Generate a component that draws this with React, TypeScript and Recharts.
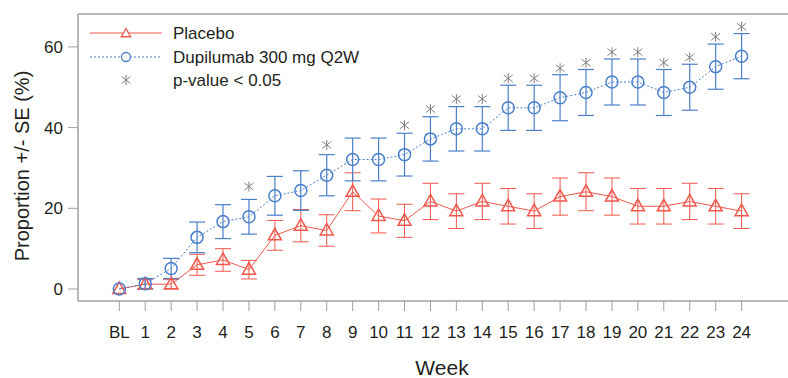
import React from 'react';
import { ComposedChart, Line, XAxis, YAxis, ErrorBar, ReferenceLine } from 'recharts';

const weeks = [0, 1, 2, 3, 4, 5, 6, 7, 8, 9, 10, 11, 12, 13, 14, 15, 16, 17, 18, 19, 20, 21, 22, 23, 24];
const weekLabels = ['BL', '1', '2', '3', '4', '5', '6', '7', '8', '9', '10', '11', '12', '13', '14', '15', '16', '17', '18', '19', '20', '21', '22', '23', '24'];

const placebo = [0, 1.2, 1.2, 6.0, 7.2, 4.8, 13.3, 15.7, 14.5, 24.1, 18.1, 16.9, 21.7, 19.3, 21.7, 20.5, 19.3, 22.9, 24.1, 22.9, 20.5, 20.5, 21.7, 20.5, 19.3];
const placeboSe = [0, 1.2, 1.2, 2.6, 2.8, 2.3, 3.7, 4.0, 3.9, 4.7, 4.2, 4.1, 4.5, 4.3, 4.5, 4.4, 4.3, 4.6, 4.7, 4.6, 4.4, 4.4, 4.5, 4.4, 4.3];

const dupilumab = [0, 1.3, 5.1, 12.8, 16.7, 17.9, 23.1, 24.4, 28.2, 32.1, 32.1, 33.3, 37.2, 39.7, 39.7, 44.9, 44.9, 47.4, 48.7, 51.3, 51.3, 48.7, 50.0, 55.1, 57.7];
const dupilumabSe = [0, 1.3, 2.5, 3.8, 4.2, 4.3, 4.8, 4.9, 5.1, 5.3, 5.3, 5.3, 5.5, 5.5, 5.5, 5.6, 5.6, 5.7, 5.7, 5.7, 5.7, 5.7, 5.7, 5.6, 5.6];

// asterisk marks for p < 0.05, placed above the upper error bar
const pStar = [null, null, null, null, null, 25.4, null, null, 35.7, null, null, 40.6, 44.6, 47.1, 47.1, 52.2, 52.2, 54.7, 56.1, 58.7, 58.7, 56.1, 57.4, 62.5, 65.0];

const yTicks = [0, 20, 40, 60];

const data = weeks.map((w, i) => ({
  week: w,
  placebo: placebo[i],
  placeboSe: placeboSe[i],
  dupi: dupilumab[i],
  dupiSe: dupilumabSe[i],
  star: pStar[i],
}));

const RED = '#F0584E';
const BLUE = '#4A7FCB';
const GREY = '#808080';
const AXIS = '#A0A0A0';
const TEXT = '#231F20';
const FONT = '"Liberation Sans", Arial, sans-serif';

const X_DOMAIN: [number, number] = [-1.593, 25.79];
const Y_DOMAIN: [number, number] = [-2.97, 68.15];

function triPath(cx: number, cy: number, s = 1) {
  return `M${cx},${cy - 7 * s} L${cx + 6.5 * s},${cy + 4.5 * s} L${cx - 6.5 * s},${cy + 4.5 * s} Z`;
}

const TriangleDot = (props: any) => {
  const { cx, cy, index } = props;
  if (cx == null || cy == null) return <g key={index} />;
  return <path key={index} d={triPath(cx, cy)} fill="none" stroke={RED} strokeWidth={1.5} />;
};

const CircleDot = (props: any) => {
  const { cx, cy, index } = props;
  if (cx == null || cy == null) return <g key={index} />;
  return <circle key={index} cx={cx} cy={cy} r={6} fill="none" stroke={BLUE} strokeWidth={1.5} />;
};

function starPath(cx: number, cy: number) {
  return `M${cx},${cy - 5} L${cx},${cy + 5} M${cx - 4.5},${cy - 3.5} L${cx + 4.5},${cy + 3.5} M${cx - 4.5},${cy + 3.5} L${cx + 4.5},${cy - 3.5}`;
}

const StarDot = (props: any) => {
  const { cx, cy, index, value } = props;
  if (value == null || cx == null || cy == null) return <g key={index} />;
  return <path key={index} d={starPath(cx, cy)} fill="none" stroke={GREY} strokeWidth={1} />;
};

export default function App() {
  return (
    <div
      style={{
        position: 'fixed',
        left: 0,
        top: 0,
        width: 788,
        height: 378,
        fontFamily: FONT,
        background: '#fff',
        overflow: 'hidden',
      }}
    >
      <ComposedChart width={788} height={378} data={data} margin={{ top: 14, right: 0, bottom: 0, left: 0 }}>
        <XAxis
          dataKey="week"
          type="number"
          domain={X_DOMAIN}
          allowDataOverflow
          ticks={weeks}
          tickFormatter={(v: number) => weekLabels[v] ?? ''}
          interval={0}
          height={77}
          tickSize={10}
          tickMargin={15}
          axisLine={{ stroke: AXIS, strokeWidth: 1.5 }}
          tickLine={{ stroke: AXIS, strokeWidth: 1 }}
          tick={{ fill: TEXT, fontSize: 17, fontFamily: FONT }}
        />
        <YAxis
          type="number"
          domain={Y_DOMAIN}
          allowDataOverflow
          ticks={yTicks}
          width={78}
          tickSize={10}
          tickMargin={5}
          axisLine={{ stroke: AXIS, strokeWidth: 1.5 }}
          tickLine={{ stroke: AXIS, strokeWidth: 1 }}
          tick={{ fill: TEXT, fontSize: 17, fontFamily: FONT }}
        />
        <ReferenceLine y={Y_DOMAIN[1]} stroke={AXIS} strokeWidth={1.5} />
        <Line
          dataKey="placebo"
          stroke={RED}
          strokeWidth={1}
          dot={<TriangleDot />}
          activeDot={false}
          isAnimationActive={false}
        >
          <ErrorBar dataKey="placeboSe" width={8} stroke={RED} strokeWidth={1} isAnimationActive={false} />
        </Line>
        <Line
          dataKey="dupi"
          stroke={BLUE}
          strokeWidth={1}
          strokeDasharray="2 2"
          dot={<CircleDot />}
          activeDot={false}
          isAnimationActive={false}
        >
          <ErrorBar dataKey="dupiSe" width={8} stroke={BLUE} strokeWidth={1.2} isAnimationActive={false} />
        </Line>
        <Line
          dataKey="star"
          stroke="none"
          dot={<StarDot />}
          activeDot={false}
          isAnimationActive={false}
        />
      </ComposedChart>
      <svg
        width={788}
        height={378}
        style={{ position: 'absolute', left: 0, top: 0, pointerEvents: 'none', fontFamily: FONT }}
      >
        {/* legend */}
        <line x1={90} y1={33} x2={162} y2={33} stroke={RED} strokeWidth={1} />
        <path d={triPath(126, 33.5, 0.72)} fill="#fff" stroke={RED} strokeWidth={1.3} />
        <text x={173} y={39} fontSize={17} fill={TEXT}>Placebo</text>
        <line x1={90} y1={57} x2={162} y2={57} stroke={BLUE} strokeWidth={1} strokeDasharray="2 2" />
        <circle cx={126} cy={57} r={4.5} fill="#fff" stroke={BLUE} strokeWidth={1.3} />
        <text x={173} y={63} fontSize={17} fill={TEXT}>Dupilumab 300 mg Q2W</text>
        <path d={starPath(126, 80)} fill="none" stroke={GREY} strokeWidth={1} />
        <text x={173} y={86} fontSize={17} fill={TEXT}>p-value &lt; 0.05</text>
        {/* axis titles */}
        <text
          x={22}
          y={166}
          fontSize={20}
          fill={TEXT}
          textAnchor="middle"
          dominantBaseline="central"
          transform="rotate(-90 22 166)"
        >
          Proportion +/- SE (%)
        </text>
        <text x={442} y={375} fontSize={21} fill={TEXT} textAnchor="middle">Week</text>
      </svg>
    </div>
  );
}
